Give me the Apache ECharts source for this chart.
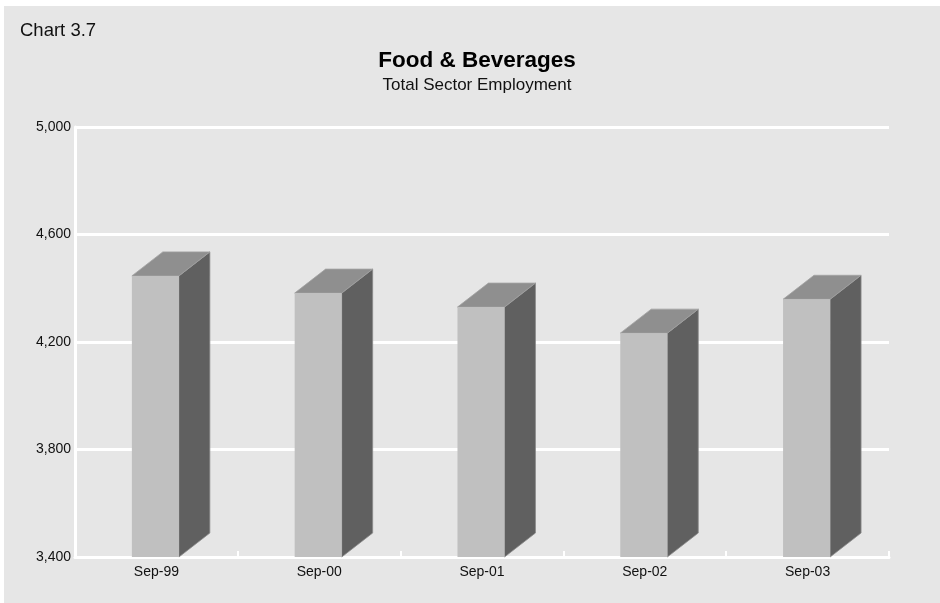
<!DOCTYPE html>
<html>
<head>
<meta charset="utf-8">
<title>Food & Beverages</title>
<script src="https://cdn.jsdelivr.net/npm/echarts@6/dist/echarts.min.js"></script>
<style>
  html, body { margin: 0; padding: 0; background: #ffffff; }
  #chart { width: 940px; height: 603px; }
</style>
</head>
<body>
<div id="chart"></div>
<script>
// Total sector employment, Food & Beverages (thousands)
const categories = ['Sep-99', 'Sep-00', 'Sep-01', 'Sep-02', 'Sep-03'];
const employment = [4446, 4382, 4330, 4233, 4359];

// value axis range and step
const yMin = 3400;
const yMax = 5000;
const yStep = 400;

const FONT = '"Liberation Sans", Arial, Helvetica, sans-serif';

const chart = echarts.init(document.getElementById('chart'), null, { renderer: 'canvas' });

// draws each column as a box: front face, top face and right side face
function renderBox(params, api) {
  const idx = api.value(0);
  const val = api.value(1);
  const topPt = api.coord([idx, val]);
  const basePt = api.coord([idx, yMin]);
  const band = api.size([1, 0])[0];
  const w = band * 0.289;
  const dx = band * 0.19;
  const dy = 24;
  const x0 = topPt[0] - w / 2 - 1;
  const x1 = x0 + w;
  const yt = topPt[1];
  const yb = basePt[1];
  return {
    type: 'group',
    children: [
      {
        type: 'polygon',
        shape: { points: [[x1, yt], [x1 + dx, yt - dy], [x1 + dx, yb - dy], [x1, yb]] },
        style: { fill: '#606060', stroke: '#8a8a8a', lineWidth: 0.8 }
      },
      {
        type: 'polygon',
        shape: { points: [[x0, yt], [x1, yt], [x1 + dx, yt - dy], [x0 + dx, yt - dy]] },
        style: { fill: '#8f8f8f', stroke: '#a2a2a2', lineWidth: 0.8 }
      },
      {
        type: 'rect',
        shape: { x: x0, y: yt, width: w, height: yb - yt },
        style: { fill: '#c0c0c0' }
      }
    ]
  };
}

const option = {
  animation: false,
  backgroundColor: '#ffffff',
  graphic: [
    {
      type: 'rect',
      z: -10,
      silent: true,
      shape: { x: 4, y: 6, width: 936, height: 597 },
      style: { fill: '#e6e6e6' }
    },
    {
      type: 'text',
      left: 20,
      top: 21,
      style: { text: 'Chart 3.7', font: '18.5px ' + FONT, fill: '#111111' }
    },
    {
      type: 'text',
      x: 477,
      y: 61,
      style: {
        text: 'Food & Beverages',
        font: 'bold 22.5px ' + FONT,
        fill: '#000000',
        textAlign: 'center',
        textVerticalAlign: 'middle'
      }
    },
    {
      type: 'text',
      x: 477,
      y: 85,
      style: {
        text: 'Total Sector Employment',
        font: '17px ' + FONT,
        fill: '#111111',
        textAlign: 'center',
        textVerticalAlign: 'middle'
      }
    }
  ],
  grid: { left: 75, right: 51, top: 127, bottom: 46, containLabel: false },
  xAxis: {
    type: 'category',
    data: categories,
    boundaryGap: true,
    axisLine: { show: true, lineStyle: { color: '#ffffff', width: 3 } },
    axisTick: { show: true, inside: true, length: 6, lineStyle: { color: '#ffffff', width: 2 } },
    axisLabel: { color: '#111111', fontFamily: FONT, fontSize: 14, margin: 8 },
    splitLine: { show: false }
  },
  yAxis: {
    type: 'value',
    min: yMin,
    max: yMax,
    interval: yStep,
    axisLine: { show: true, lineStyle: { color: '#ffffff', width: 3 } },
    axisTick: { show: false },
    axisLabel: {
      color: '#111111',
      fontFamily: FONT,
      fontSize: 14,
      margin: 4,
      formatter: v => v.toLocaleString('en-US')
    },
    splitLine: { show: true, lineStyle: { color: '#ffffff', width: 3 } }
  },
  series: [
    {
      type: 'custom',
      renderItem: renderBox,
      encode: { x: 0, y: 1 },
      data: employment.map((v, i) => [i, v]),
      z: 5
    }
  ]
};

chart.setOption(option);
</script>
</body>
</html>
